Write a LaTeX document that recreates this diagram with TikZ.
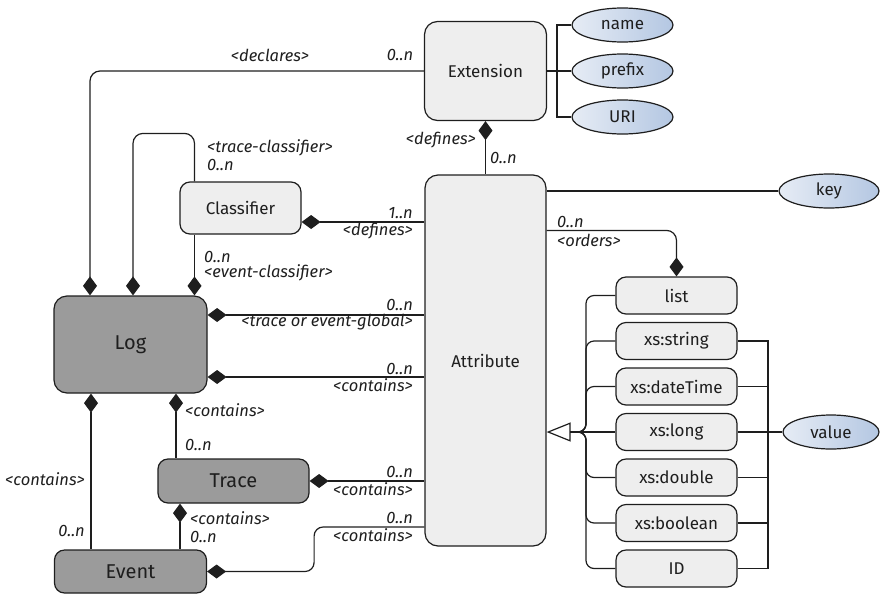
\documentclass[tikz,border=0pt]{standalone}
\usepackage{fontspec}
\setmainfont{Fira Sans}
\usetikzlibrary{arrows.meta,shapes.geometric}

\definecolor{linegray}{HTML}{1E1E1E}
\definecolor{boxlight}{HTML}{EEEEEE}
\definecolor{boxdark}{HTML}{9B9B9B}
\definecolor{propleft}{HTML}{E6ECF5}
\definecolor{propright}{HTML}{B4C7E2}

\tikzset{
  entity/.style={draw=linegray, line width=1.2pt, rounded corners=10pt, fill=boxlight,
    text=linegray, font=\fontsize{17}{20}\selectfont},
  darkent/.style={entity, fill=boxdark, font=\fontsize{20}{24}\selectfont},
  typ/.style={entity, minimum width=121pt, minimum height=37pt, inner sep=0pt},
  prop/.style={draw=linegray, line width=1.2pt, ellipse, left color=propleft, right color=propright,
    minimum width=101pt, minimum height=34pt, inner sep=0pt, text=linegray, font=\fontsize{17}{20}\selectfont},
  lbl/.style={inner sep=0pt, text=linegray, font=\itshape\fontsize{16.5}{19}\selectfont},
  link/.style={draw=linegray, line width=1.2pt},
  comp/.style={link, {Diamond[length=19pt,width=14pt]}-},
}

\begin{document}
\begin{tikzpicture}[x=1pt, y=-1pt, node distance=45.5pt]
  \useasboundingbox (0,0) rectangle (880,595);

  % classes
  \node[entity, minimum width=122pt, minimum height=99pt, rounded corners=13pt] (ext) at (485.5,71) {Extension};
  \node[entity, minimum width=121pt, minimum height=371pt, rounded corners=13pt] (attr) at (485.5,360.5) {Attribute};
  \node[entity, minimum width=121pt, minimum height=52pt] (clsf) at (240.5,208) {Classifier};
  \node[darkent, minimum width=153pt, minimum height=97pt, rounded corners=13pt] (log) at (130.5,344.5) {Log};
  \node[darkent, minimum width=151pt, minimum height=44pt] (trace) at (233.5,481) {Trace};
  \node[darkent, minimum width=152pt, minimum height=43pt] (event) at (130.5,571.5) {Event};

  % extension and attribute properties
  \node[prop] (name) at (622.5,25) {name};
  \node[prop, below of=name, node distance=46pt] (prefix) {prefix};
  \node[prop, below of=prefix, node distance=46pt] (uri) {URI};
  \node[prop, minimum width=100pt] (key) at (829,191) {key};
  \node[prop, minimum width=96pt] (value) at (831,432) {value};

  % attribute types
  \node[typ] (list) at (676.5,295.5) {list};
  \node[typ, below of=list] (xstr) {xs:string};
  \node[typ, below of=xstr] (xdate) {xs:dateTime};
  \node[typ, below of=xdate] (xlong) {xs:long};
  \node[typ, below of=xlong] (xdbl) {xs:double};
  \node[typ, below of=xdbl] (xbool) {xs:boolean};
  \node[typ, below of=xbool] (xid) {ID};

  \coordinate (eb) at (557,71);
  \coordinate (gen) at (586,432);
  \coordinate (rb) at (768,432);

  % properties
  \draw[link] (ext.east) -- (prefix.west);
  \draw[link] (name.west) -| (eb) |- (uri.west);
  \draw[link] (attr.east |- key.west) -- (key.west);
  \draw[link] (xstr.east) -| (rb) |- (xid.east);
  \foreach \t in {xdate,xlong,xdbl,xbool}
    \draw[link] (\t.east) -- (\t.east -| rb);
  \draw[link] (rb) -- (value.west);

  % generalisation of the types
  \draw[link, -{Triangle[open, length=24pt, width=19pt]}] (gen) -- (gen -| attr.east);
  \foreach \t in {list,xstr,xdate,xdbl,xbool,xid}
    \draw[link, rounded corners=8pt] ([xshift=-12pt]gen) -- (gen) |- (\t.west);
  \draw[link] (gen) -- (xlong.west);

  % compositions
  \draw[comp] (ext.south) -- (attr.north);
  \draw[comp, rounded corners=10pt] (list.north) |- ([yshift=-56pt]attr.north east);
  \draw[comp, rounded corners=10pt] ([xshift=-40.5pt]log.north) |- (ext.west);
  \draw[comp, rounded corners=10pt] ([xshift=2.5pt]log.north) |- ([xshift=-46pt,yshift=48pt]clsf.north) -- ([xshift=-46pt]clsf.north);
  \draw[comp] ([xshift=64pt]log.north) -- ([xshift=-46pt]clsf.south);
  \draw[comp] ([yshift=-14pt]clsf.east) -- ([yshift=-14pt]clsf.east -| attr.west);
  \draw[comp] ([yshift=29.5pt]log.east) -- ([yshift=29.5pt]log.east -| attr.west);
  \draw[comp] ([yshift=-32.5pt]log.east) -- ([yshift=-32.5pt]log.east -| attr.west);
  \draw[comp] (trace.east) -- (trace.east -| attr.west);
  \draw[comp, rounded corners=9pt] (event.east) -- ++(107,0) |- (attr.west |- 0,527);
  \draw[comp] ([xshift=-39.5pt]log.south) -- ([xshift=-39.5pt]event.north);
  \draw[comp] ([xshift=45.5pt]log.south) -- ([xshift=-57.5pt]trace.north);
  \draw[comp] ([xshift=-53.5pt]trace.south) -- ([xshift=49.5pt]event.north);

  % role names and multiplicities
  \node[lbl] (l-decl) at (270,55) {<declares>};
  \node[lbl] (m-decl) at (400,55) {0..n};
  \node[lbl, anchor=west] (l-tcls) at (207,148) {<trace-classifier>};
  \node[lbl, anchor=west] (m-tcls) at (207,165) {0..n};
  \node[lbl, anchor=east] (l-edef) at (476,140) {<defines>};
  \node[lbl, anchor=west] (m-edef) at (490,158) {0..n};
  \node[lbl, anchor=east] (m-cdef) at (413,213) {1..n};
  \node[lbl, anchor=east] (l-cdef) at (413,231) {<defines>};
  \node[lbl, anchor=west] (m-ecls) at (204,257) {0..n};
  \node[lbl, anchor=west] (l-ecls) at (204,273) {<event-classifier>};
  \node[lbl, anchor=east] (m-glob) at (413,305) {0..n};
  \node[lbl, anchor=east] (l-glob) at (413,322) {<trace or event-global>};
  \node[lbl, anchor=east] (m-lattr) at (413,369) {0..n};
  \node[lbl, anchor=east] (l-lattr) at (413,385) {<contains>};
  \node[lbl, anchor=west] (m-ord) at (557,222) {0..n};
  \node[lbl, anchor=west] (l-ord) at (557,240) {<orders>};
  \node[lbl, anchor=west] (l-ltr) at (185,410) {<contains>};
  \node[lbl, anchor=west] (m-ltr) at (185,445) {0..n};
  \node[lbl, anchor=west] (l-lev) at (5,479) {<contains>};
  \node[lbl, anchor=east] (m-lev) at (85,531) {0..n};
  \node[lbl, anchor=east] (m-tattr) at (413,472) {0..n};
  \node[lbl, anchor=east] (l-tattr) at (413,489) {<contains>};
  \node[lbl, anchor=west] (l-tev) at (190,518) {<contains>};
  \node[lbl, anchor=west] (m-tev) at (190,537) {0..n};
  \node[lbl, anchor=east] (m-eattr) at (413,518) {0..n};
  \node[lbl, anchor=east] (l-eattr) at (413,535) {<contains>};
\end{tikzpicture}
\end{document}
